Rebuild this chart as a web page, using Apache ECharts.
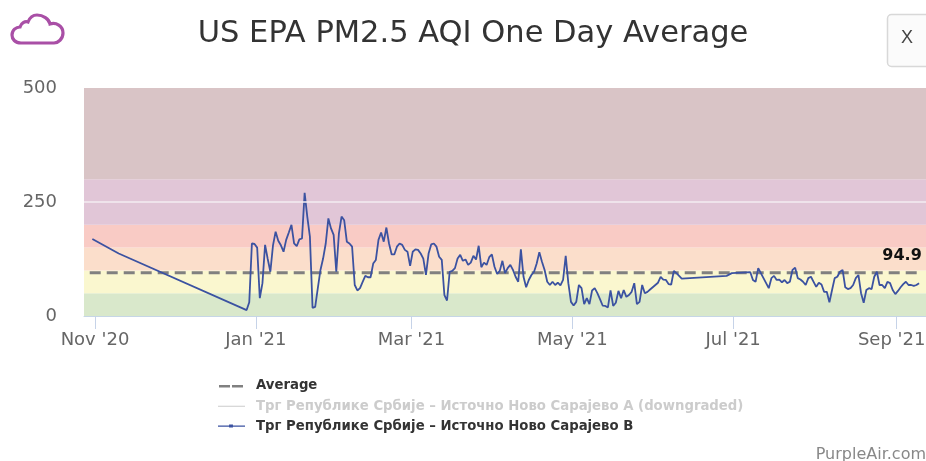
<!DOCTYPE html>
<html>
<head>
<meta charset="utf-8">
<style>
	html, body { margin: 0; padding: 0; background: #fff; }
	#main { width: 926px; height: 461px; }
</style>
<script src="https://cdn.jsdelivr.net/npm/echarts@6/dist/echarts.min.js"></script>
</head>
<body>
<div id="main"></div>
<script>
var titleText = "US EPA PM2.5 AQI One Day Average";
var nameAverage = "Average";
var nameA = "Трг Републике Србије – Источно Ново Сарајево A (downgraded)";
var nameB = "Трг Републике Србије – Источно Ново Сарајево B";

var averageValue = 94.9;
var averageDates = ["2020-10-30", "2021-09-09"];

var tickDates = ["2020-11-01", "2021-01-01", "2021-03-01", "2021-05-01", "2021-07-01", "2021-09-01"];
var tickLabels = ["Nov '20", "Jan '21", "Mar '21", "May '21", "Jul '21", "Sep '21"];

// AQI bands: lower limit, upper limit, colour
var bandLower = [0, 50, 100, 150, 200, 300];
var bandUpper = [50, 100, 150, 200, 300, 500];
var bandColors = ["#d9e8cb", "#faf7cf", "#fbdecb", "#f9cbc5", "#e1c6d7", "#d9c4c6"];

// sparse readings before the daily run starts
var earlyDates = ["2020-10-31", "2020-11-10"];
var earlyValues = [169, 137];

// daily values, 28 Dec 2020 to 11 Jun 2021
var dailyStart1 = "2020-12-28";
var dailyValues1 = [
	13, 30, 159, 158, 150, 39, 72, 156, 125, 97, 155, 185, 165, 155, 141, 167, 183, 200, 159, 153, 168, 170,
	270, 218, 174, 18, 20, 61, 101, 126, 159, 214, 192, 178, 97, 181, 218, 210, 163, 159, 152, 68, 56, 61,
	75, 88, 85, 85, 115, 123, 167, 183, 163, 194, 159, 135, 135, 152, 159, 156, 145, 141, 110, 141, 146, 145,
	137, 126, 90, 137, 157, 159, 152, 130, 123, 46, 34, 97, 99, 105, 126, 134, 121, 124, 112, 117, 132, 124,
	154, 107, 117, 112, 129, 135, 108, 92, 99, 121, 94, 105, 112, 101, 86, 75, 146, 86, 63, 79, 90, 97,
	115, 140, 119, 101, 75, 68, 75, 68, 73, 67, 79, 132, 72, 31, 23, 31, 68, 61, 26, 39, 26, 56, 61, 50,
	37, 23, 22, 19, 56, 22, 29, 55, 39, 57, 42, 46, 53, 72, 26, 31, 68, 50, 53, 58, 63, 68, 73, 86,
	80, 79, 70, 69, 99, 94, 88, 82
];

// sparse readings across the June gap
var gapDates = ["2021-06-28", "2021-06-30", "2021-07-07"];
var gapValues = [88, 94, 96];

// daily values from 8 Jul 2021
var dailyStart2 = "2021-07-08";
var dailyValues2 = [
	79, 75, 105, 94, 83, 72, 61, 83, 88, 79, 80, 74, 79, 72, 75, 101, 106, 83, 80, 75, 68, 83,
	86, 75, 64, 73, 69, 53, 53, 30, 57, 83, 86, 97, 101, 63, 59, 61, 68, 83, 90, 50, 29, 57,
	61, 59, 86, 97, 68, 68, 61, 75, 72, 57, 48, 55, 63, 70, 75, 68, 68, 66, 68, 72
];

var DAY = 86400000;
var NOON = DAY / 2;

function toTime(d) {
	return new Date(d + "T00:00:00Z").getTime();
}

var seriesB = [];
for (var i = 0; i < earlyDates.length; i++) {
	seriesB.push([toTime(earlyDates[i]), earlyValues[i]]);
}
for (var i = 0; i < dailyValues1.length; i++) {
	seriesB.push([toTime(dailyStart1) + NOON + i * DAY, dailyValues1[i]]);
}
for (var i = 0; i < gapDates.length; i++) {
	seriesB.push([toTime(gapDates[i]) + NOON, gapValues[i]]);
}
for (var i = 0; i < dailyValues2.length; i++) {
	seriesB.push([toTime(dailyStart2) + NOON + i * DAY, dailyValues2[i]]);
}

var bandData = [];
for (var i = 0; i < bandLower.length; i++) {
	bandData.push([
		{ yAxis: bandLower[i], itemStyle: { color: bandColors[i], opacity: 1 } },
		{ yAxis: bandUpper[i] }
	]);
}

var tickValues = tickDates.map(toTime);

// logo in the top left corner
echarts.graphic.registerShape("cloud", echarts.graphic.extendShape({
	shape: {},
	buildPath: function (ctx) {
		ctx.moveTo(21, 43);
		ctx.bezierCurveTo(15, 43, 12, 39, 12, 35);
		ctx.bezierCurveTo(12, 30, 16, 27, 20, 27);
		ctx.bezierCurveTo(21, 23, 25, 21, 28, 22);
		ctx.bezierCurveTo(30, 17, 34, 15, 37, 15);
		ctx.bezierCurveTo(43, 15, 49, 19, 50, 24);
		ctx.bezierCurveTo(56, 22, 63, 26, 63, 33);
		ctx.bezierCurveTo(63, 39, 58, 43, 54, 43);
		ctx.closePath();
	}
}));

// legend samples, the corner specks keep the box at the full item size
var iconDashed = "path://M0 0h.01v.01h-.01z M27 14h.01v.01h-.01z M1 6h11v2.6H1z M14 6h11v2.6H14z";
var iconThin = "path://M0 0h.01v.01h-.01z M27 14h.01v.01h-.01z M0 6.5h28v1H0z";
var iconDot = "path://M0 0h.01v.01h-.01z M27 14h.01v.01h-.01z M0 6.4h28v1.2H0z M11.5 5.4h4v3.2h-4z";

var myChart = echarts.init(document.getElementById("main"), null, { renderer: "canvas" });
var option = {
	animation: false,
	textStyle: { fontFamily: "DejaVu Sans" },
	title: {
		text: titleText,
		left: 468,
		top: 14,
		textAlign: "center",
		textStyle: { fontFamily: "DejaVu Sans", fontSize: 30.5, fontWeight: "normal", color: "#333" }
	},
	grid: { left: 84, right: 0, top: 88, bottom: 145, outerBoundsMode: "none" },
	legend: {
		orient: "vertical",
		left: 218,
		top: 379,
		padding: 0,
		itemWidth: 27,
		itemHeight: 14,
		itemGap: 6.4,
		inactiveColor: "#ccc",
		data: [
			{ name: nameAverage, icon: iconDashed },
			{ name: nameA, icon: iconThin },
			{ name: nameB, icon: iconDot }
		],
		selected: { [nameA]: false },
		textStyle: { fontFamily: "DejaVu Sans", fontSize: 13.25, fontWeight: "bold", color: "#333", padding: [0, 0, 0, 6] }
	},
	xAxis: {
		type: "value",
		min: toTime("2020-10-27") + 20 * 3600000,
		max: toTime("2021-09-12") + 3 * 3600000,
		axisLine: { show: true, onZero: false, lineStyle: { color: "#c6d6e6", width: 1 } },
		axisTick: { show: true, length: 13, customValues: tickValues, lineStyle: { color: "#c6d3e8", width: 1 } },
		axisLabel: {
			customValues: tickValues,
			margin: 15,
			fontSize: 18,
			fontFamily: "DejaVu Sans",
			color: "#666",
			hideOverlap: false,
			rich: {
				// the last label is pushed left so it stays on the canvas
				last: { fontSize: 18, fontFamily: "DejaVu Sans", color: "#666", padding: [0, 10, 0, 0] }
			},
			formatter: function (value) {
				var idx = tickValues.indexOf(value);
				if (idx === tickValues.length - 1) {
					return "{last|" + tickLabels[idx] + "}";
				}
				return tickLabels[idx];
			}
		},
		splitLine: { show: false }
	},
	yAxis: {
		type: "value",
		min: 0,
		max: 500,
		interval: 250,
		axisLine: { show: false },
		axisTick: { show: false },
		axisLabel: { margin: 27, fontSize: 18, fontFamily: "DejaVu Sans", color: "#666", padding: [6, 0, 0, 0] },
		splitLine: { show: false }
	},
	series: [
		{
			name: "bands",
			type: "line",
			z: 1,
			data: [],
			silent: true,
			markArea: { silent: true, data: bandData },
			markLine: {
				silent: true,
				symbol: "none",
				label: { show: false },
				lineStyle: { color: "#f3ecf2", width: 1.5, type: "solid" },
				data: [{ yAxis: 250 }]
			}
		},
		{
			name: nameAverage,
			type: "line",
			z: 3,
			symbol: "none",
			lineStyle: { color: "#808080", width: 3, type: [11, 6] },
			itemStyle: { color: "#808080" },
			data: [
				[toTime(averageDates[0]), averageValue],
				{
					value: [toTime(averageDates[1]), averageValue],
					symbol: "circle",
					symbolSize: 0,
					label: {
						show: true,
						position: "top",
						align: "right",
						offset: [4, -4],
						formatter: String(averageValue),
						fontFamily: "DejaVu Sans",
						fontSize: 16,
						fontWeight: "bold",
						color: "#111"
					}
				}
			]
		},
		{
			name: nameA,
			type: "line",
			z: 3,
			symbol: "none",
			lineStyle: { color: "#ccc", width: 1 },
			itemStyle: { color: "#ccc" },
			data: []
		},
		{
			name: nameB,
			type: "line",
			z: 4,
			symbol: "circle",
			symbolSize: 4,
			showSymbol: false,
			lineStyle: { color: "#3b52a1", width: 1.8 },
			itemStyle: { color: "#3b52a1" },
			data: seriesB
		}
	],
	graphic: [
		{
			type: "cloud",
			style: { fill: "none", stroke: "#a94fa6", lineWidth: 3.2 }
		},
		{
			type: "rect",
			shape: { x: 887.5, y: 14.5, width: 60, height: 52, r: 4 },
			style: { fill: "#fbfbfb", stroke: "#d8d8d8", lineWidth: 1.5 }
		},
		{
			type: "text",
			x: 907,
			y: 38,
			style: { text: "X", fontFamily: "Liberation Sans", fontSize: 18, fill: "#444", textAlign: "center", textVerticalAlign: "middle" }
		},
		{
			type: "text",
			x: 926,
			y: 455,
			style: { text: "PurpleAir.com", fontFamily: "DejaVu Sans", fontSize: 16, fill: "#888", textAlign: "right", textVerticalAlign: "middle" }
		}
	]
};
myChart.setOption(option, true);
</script>
</body>
</html>
